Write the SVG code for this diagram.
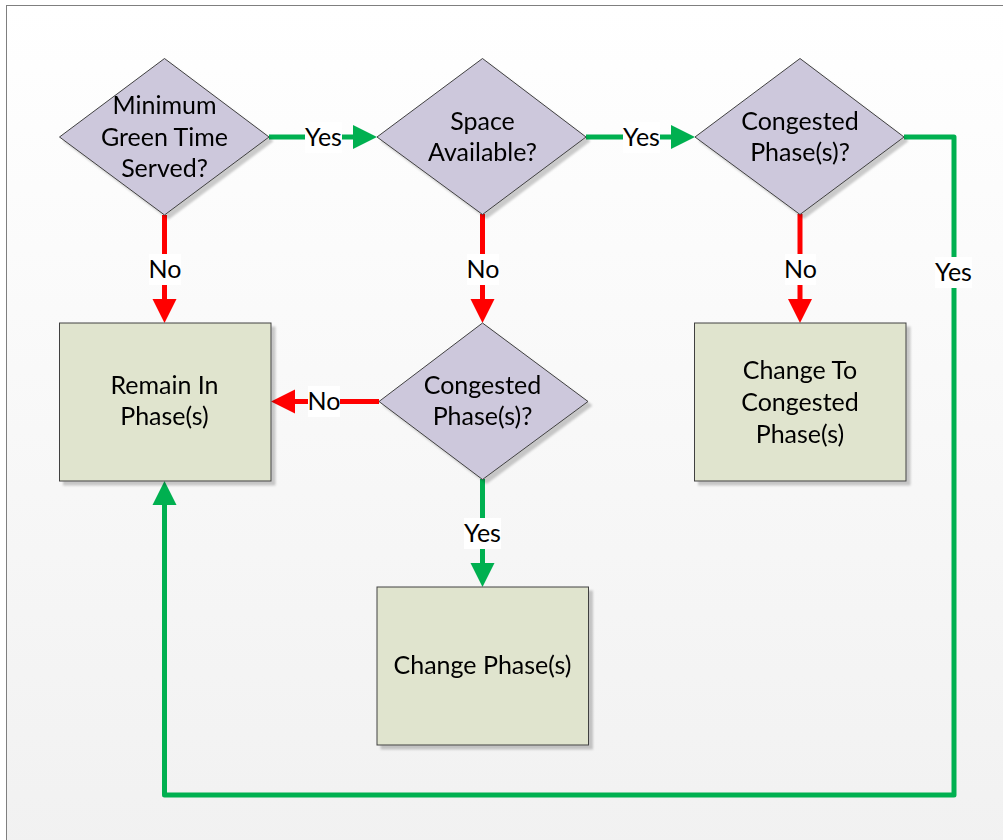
<svg xmlns="http://www.w3.org/2000/svg" width="1003" height="840" viewBox="0 0 1003 840">
<defs>
<linearGradient id="bg" x1="0" y1="0" x2="0" y2="1">
<stop offset="0" stop-color="#ffffff"/>
<stop offset="1" stop-color="#f1f1f1"/>
</linearGradient>
<filter id="sh" x="-10%" y="-10%" width="130%" height="130%">
<feGaussianBlur in="SourceAlpha" stdDeviation="1"/>
<feOffset dx="4" dy="4" result="o"/>
<feFlood flood-color="#000" flood-opacity="0.2"/>
<feComposite in2="o" operator="in"/>
<feMerge><feMergeNode/><feMergeNode in="SourceGraphic"/></feMerge>
</filter>
<marker id="ag" markerUnits="userSpaceOnUse" markerWidth="25" markerHeight="25" refX="14" refY="12" orient="auto" viewBox="0 0 25 24">
<path d="M0,0 L24,12 L0,24 Z" fill="#00b050"/>
</marker>
<marker id="ar" markerUnits="userSpaceOnUse" markerWidth="25" markerHeight="25" refX="14" refY="12" orient="auto" viewBox="0 0 25 24">
<path d="M0,0 L24,12 L0,24 Z" fill="#ff0000"/>
</marker>
</defs>
<style>
.dia{fill:#cdc8dc;stroke:#404040;stroke-width:1}
.box{fill:#e0e4ce;stroke:#404040;stroke-width:1}
.t{font-family:Lato,"Liberation Sans",sans-serif;font-size:25px;fill:#000;text-anchor:middle}
.g{fill:none;stroke:#00b050;stroke-width:5;marker-end:url(#ag)}
.r{fill:none;stroke:#ff0000;stroke-width:5;marker-end:url(#ar)}
.lb{fill:#ffffff}
</style>
<rect x="0" y="0" width="1003" height="840" fill="#ffffff"/>
<rect x="6.5" y="5.5" width="1010" height="850" fill="url(#bg)" stroke="#7f7f7f" stroke-width="1"/>

<g id="connectors">
<path class="g" d="M269,137 H367"/>
<path class="g" d="M586,137 H685"/>
<path class="r" d="M164.5,215 V313"/>
<path class="r" d="M482.5,214 V313"/>
<path class="r" d="M800,214 V313"/>
<path class="r" d="M379,401.5 H281"/>
<path class="g" d="M482.5,479 V577"/>
<path class="g" d="M904,137 H954 V795 H164.5 V491" stroke-linejoin="round"/>
<rect class="lb" x="305" y="122" width="37" height="31"/>
<text class="t" x="323.5" y="145.5">Yes</text>
<rect class="lb" x="623" y="122" width="37" height="31"/>
<text class="t" x="641.5" y="145.5">Yes</text>
<rect class="lb" x="149" y="254" width="32" height="31"/>
<text class="t" x="165" y="278">No</text>
<rect class="lb" x="467" y="254" width="32" height="31"/>
<text class="t" x="483" y="278">No</text>
<rect class="lb" x="785" y="254" width="31" height="31"/>
<text class="t" x="800.5" y="278">No</text>
<rect class="lb" x="935" y="257" width="37" height="31"/>
<text class="t" x="953.5" y="280.5">Yes</text>
<rect class="lb" x="308" y="386" width="32" height="31"/>
<text class="t" x="324" y="409.5">No</text>
<rect class="lb" x="464" y="518" width="37" height="31"/>
<text class="t" x="482.5" y="541.5">Yes</text>
</g>

<g id="d1" filter="url(#sh)">
<polygon class="dia" points="164.5,58.5 269,137 164.5,215 59.5,137"/>
<text class="t" x="164.5" y="113.5">Minimum</text>
<text class="t" x="164.5" y="145.5">Green Time</text>
<text class="t" x="164.5" y="177">Served?</text>
</g>
<g id="d2" filter="url(#sh)">
<polygon class="dia" points="482.5,58.5 586,137 482.5,214.5 377,137"/>
<text class="t" x="482.5" y="130">Space</text>
<text class="t" x="482.5" y="161">Available?</text>
</g>
<g id="d3" filter="url(#sh)">
<polygon class="dia" points="800,58.5 904,137 800,214.5 695,137"/>
<text class="t" x="800" y="130">Congested</text>
<text class="t" x="800" y="161">Phase(s)?</text>
</g>
<g id="d4" filter="url(#sh)">
<polygon class="dia" points="482.5,323 588,401.5 482.5,479.5 379,401.5"/>
<text class="t" x="482.5" y="393.5">Congested</text>
<text class="t" x="482.5" y="425">Phase(s)?</text>
</g>
<g id="b1" filter="url(#sh)">
<rect class="box" x="59.5" y="323" width="211.5" height="158"/>
<text class="t" x="164.5" y="393.5">Remain In</text>
<text class="t" x="164.5" y="425">Phase(s)</text>
</g>
<g id="b2" filter="url(#sh)">
<rect class="box" x="377" y="587" width="211.5" height="158"/>
<text class="t" x="482.5" y="674">Change Phase(s)</text>
</g>
<g id="b3" filter="url(#sh)">
<rect class="box" x="694.5" y="323" width="211.5" height="158"/>
<text class="t" x="800" y="378.5">Change To</text>
<text class="t" x="800" y="410.5">Congested</text>
<text class="t" x="800" y="442.5">Phase(s)</text>
</g>
</svg>
